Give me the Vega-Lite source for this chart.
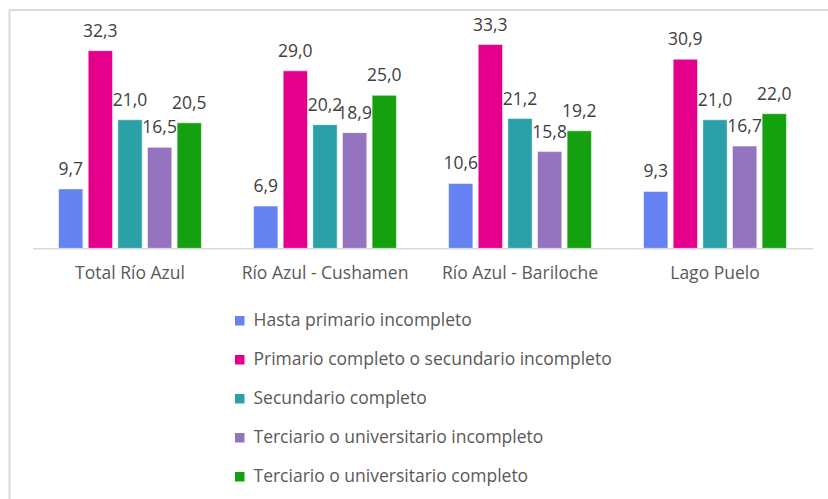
{
  "$schema": "https://vega.github.io/schema/vega-lite/v6.json",
  "autosize": "none",
  "padding": {"left": 9, "top": 10, "right": 0, "bottom": 0},
  "width": 819,
  "height": 489,
  "background": "white",
  "config": {
    "view": {"stroke": null},
    "font": "Open Sans",
    "locale": {"number": {"decimal": ",", "thousands": ".", "grouping": [3], "currency": ["", " €"]}}
  },
  "data": {
    "values": [
      {"zona": "Total Río Azul", "nivel": "Hasta primario incompleto", "valor": 9.7},
      {"zona": "Total Río Azul", "nivel": "Primario completo o secundario incompleto", "valor": 32.3},
      {"zona": "Total Río Azul", "nivel": "Secundario completo", "valor": 21.0},
      {"zona": "Total Río Azul", "nivel": "Terciario o universitario incompleto", "valor": 16.5},
      {"zona": "Total Río Azul", "nivel": "Terciario o universitario completo", "valor": 20.5},
      {"zona": "Río Azul - Cushamen", "nivel": "Hasta primario incompleto", "valor": 6.9},
      {"zona": "Río Azul - Cushamen", "nivel": "Primario completo o secundario incompleto", "valor": 29.0},
      {"zona": "Río Azul - Cushamen", "nivel": "Secundario completo", "valor": 20.2},
      {"zona": "Río Azul - Cushamen", "nivel": "Terciario o universitario incompleto", "valor": 18.9},
      {"zona": "Río Azul - Cushamen", "nivel": "Terciario o universitario completo", "valor": 25.0},
      {"zona": "Río Azul - Bariloche", "nivel": "Hasta primario incompleto", "valor": 10.6},
      {"zona": "Río Azul - Bariloche", "nivel": "Primario completo o secundario incompleto", "valor": 33.3},
      {"zona": "Río Azul - Bariloche", "nivel": "Secundario completo", "valor": 21.2},
      {"zona": "Río Azul - Bariloche", "nivel": "Terciario o universitario incompleto", "valor": 15.8},
      {"zona": "Río Azul - Bariloche", "nivel": "Terciario o universitario completo", "valor": 19.2},
      {"zona": "Lago Puelo", "nivel": "Hasta primario incompleto", "valor": 9.3},
      {"zona": "Lago Puelo", "nivel": "Primario completo o secundario incompleto", "valor": 30.9},
      {"zona": "Lago Puelo", "nivel": "Secundario completo", "valor": 21.0},
      {"zona": "Lago Puelo", "nivel": "Terciario o universitario incompleto", "valor": 16.7},
      {"zona": "Lago Puelo", "nivel": "Terciario o universitario completo", "valor": 22.0}
    ]
  },
  "layer": [
    {
      "mark": {"type": "rule", "color": "#d9d9d9", "strokeWidth": 2},
      "encoding": {
        "y": {"datum": 38.94, "type": "quantitative", "scale": {"domain": [-40.96, 38.94], "nice": false, "zero": false},
          "axis": {"title": null, "labels": false, "ticks": false, "grid": false, "domainColor": "#d9d9d9", "domainWidth": 2}}
      }
    },
    {
      "mark": {"type": "bar", "stroke": "white", "strokeWidth": 0.5},
      "encoding": {
        "x": {
          "field": "zona", "type": "nominal", "sort": null,
          "scale": {"range": [23.5, 803.5], "paddingInner": 0.24, "paddingOuter": 0.12},
          "axis": {
            "title": null, "offset": -250.7, "labelAngle": 0, "ticks": false,
            "domainColor": "#d9d9d9", "domainWidth": 1.5,
            "labelFontSize": 17.5, "labelColor": "#595959", "labelPadding": 25,
            "labelBaseline": "middle", "grid": false
          }
        },
        "xOffset": {
          "field": "nivel", "type": "nominal", "sort": null,
          "scale": {"paddingInner": 0.18, "paddingOuter": 0.09}
        },
        "y": {"field": "valor", "type": "quantitative"},
        "y2": {"datum": 0},
        "color": {
          "field": "nivel", "type": "nominal", "sort": null,
          "scale": {
            "domain": ["Hasta primario incompleto", "Primario completo o secundario incompleto", "Secundario completo", "Terciario o universitario incompleto", "Terciario o universitario completo"],
            "range": ["#6682F0", "#E5008B", "#2BA0A6", "#9574BF", "#15A010"]
          },
          "legend": {
            "title": null, "orient": "none", "legendX": 222, "legendY": 302,
            "direction": "vertical", "symbolType": "square", "symbolSize": 90,
            "symbolStrokeWidth": 0, "labelFontSize": 17.5, "labelColor": "#595959",
            "labelOffset": 5, "rowPadding": 20, "labelLimit": 600
          }
        }
      }
    },
    {
      "mark": {"type": "text", "baseline": "alphabetic", "dy": -14, "fontSize": 17.5, "color": "#404040"},
      "encoding": {
        "x": {"field": "zona", "type": "nominal", "sort": null},
        "xOffset": {"field": "nivel", "type": "nominal", "sort": null},
        "y": {"field": "valor", "type": "quantitative"},
        "text": {"field": "valor", "type": "quantitative", "format": ".1f"}
      }
    }
  ]
}
